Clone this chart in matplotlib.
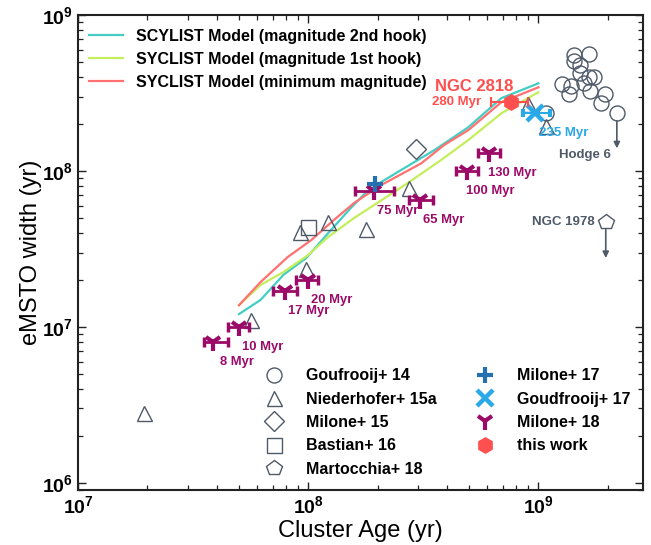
import matplotlib
matplotlib.use('Agg')
import matplotlib.pyplot as plt
from matplotlib.ticker import FuncFormatter
import numpy as np

plt.rcParams['font.family'] = ['Liberation Sans', 'DejaVu Sans']
plt.rcParams['mathtext.fontset'] = 'custom'
plt.rcParams['mathtext.rm'] = 'Liberation Sans'
plt.rcParams['mathtext.bf'] = 'Liberation Sans:bold'

# ---- model curves (age, eMSTO width) ----
hook2_age = [5.0e7, 6.2e7, 7.8e7, 9.8e7, 1.22e8, 1.53e8, 1.78e8, 2.07e8, 2.88e8, 3.52e8, 4.95e8, 6.9e8, 1.0e9]
hook2_w = [1.21e7, 1.49e7, 2.16e7, 2.77e7, 4.0e7, 5.8e7, 7.3e7, 8.5e7, 1.14e8, 1.36e8, 1.91e8, 2.94e8, 3.66e8]
hook1_age = [5.0e7, 6.2e7, 7.8e7, 1.0e8, 1.22e8, 1.58e8, 2.01e8, 2.71e8, 3.78e8, 4.95e8, 6.9e8, 1.0e9]
hook1_w = [1.38e7, 1.86e7, 2.25e7, 2.9e7, 3.78e7, 5.0e7, 6.3e7, 8.4e7, 1.18e8, 1.58e8, 2.35e8, 3.21e8]
minmag_age = [5.0e7, 6.2e7, 8.14e7, 1.03e8, 1.29e8, 1.58e8, 2.07e8, 3.09e8, 3.89e8, 4.95e8, 6.9e8, 1.0e9]
minmag_w = [1.38e7, 1.94e7, 2.81e7, 3.61e7, 4.85e7, 6.24e7, 8.13e7, 1.12e8, 1.47e8, 1.83e8, 2.77e8, 3.45e8]

# ---- observations ----
goud14_age = [1.42e9, 1.65e9, 1.42e9, 1.51e9, 1.51e9, 1.65e9, 1.75e9, 1.27e9, 1.38e9, 1.57e9, 1.36e9, 1.67e9, 1.94e9, 1.86e9, 1.08e9]
goud14_w = [5.54e8, 5.62e8, 5.07e8, 4.78e8, 4.25e8, 4.0e8, 4.0e8, 3.61e8, 3.51e8, 3.66e8, 3.12e8, 3.26e8, 3.12e8, 2.73e8, 2.35e8]
hodge6_age = [2.19e9]
hodge6_w = [2.35e8]
hodge6_lim = [1.40e8]

nied15_age = [1.94e7, 5.61e7, 9.76e7, 9.18e7, 1.22e8, 1.78e8, 2.74e8, 9.04e8, 1.08e9]
nied15_w = [2.81e6, 1.11e7, 2.36e7, 4.07e7, 4.71e7, 4.25e7, 7.78e7, 2.69e8, 1.94e8]

milone15_age = [2.94e8]
milone15_w = [1.38e8]

bastian16_age = [1.0e8]
bastian16_w = [4.38e7]

ngc1978_age = [1.96e9]
ngc1978_w = [4.71e7]
ngc1978_lim = [2.77e7]

milone17_age = [1.95e8]
milone17_w = [8.26e7]

goud17_age = [9.7e8]
goud17_w = [2.35e8]
goud17_lo = [8.6e8]
goud17_hi = [1.12e9]

milone18_age = [3.87e7, 5.0e7, 7.9e7, 1.0e8, 1.93e8, 3.06e8, 4.9e8, 6.1e8]
milone18_lo = [3.54e7, 4.46e7, 7.0e7, 8.8e7, 1.6e8, 2.74e8, 4.4e8, 5.48e8]
milone18_hi = [4.46e7, 5.5e7, 8.9e7, 1.1e8, 2.36e8, 3.49e8, 5.48e8, 6.83e8]
milone18_w = [8.0e6, 1.0e7, 1.7e7, 2.0e7, 7.45e7, 6.5e7, 1.0e8, 1.3e8]
milone18_lab = ['8 Myr', '10 Myr', '17 Myr', '20 Myr', '75 Myr', '65 Myr', '100 Myr', '130 Myr']

this_age = [7.63e8]
this_w = [2.77e8]
this_lo = [6.24e8]
this_hi = [9.04e8]

gray = '#4f5a68'
purple = '#9c0a68'
red = '#ff4f4f'

fig = plt.figure(figsize=(6.51, 5.45), dpi=100)
ax = fig.add_axes([0.12, 0.101, 0.868, 0.871])
ax.set_xscale('log')
ax.set_yscale('log')

l1, = ax.plot(hook2_age, hook2_w, color='#44cdc4', lw=1.6, label='SCYLIST Model (magnitude 2nd hook)')
l2, = ax.plot(hook1_age, hook1_w, color='#c4ee5c', lw=1.6, label='SYCLIST Model (magnitude 1st hook)')
l3, = ax.plot(minmag_age, minmag_w, color='#ff7070', lw=1.6, label='SYCLIST Model (minimum magnitude)')

ms = 10.8
open_kw = dict(ls='none', mfc='none', mec=gray, mew=1.0, ms=ms)
h_c, = ax.plot(goud14_age + hodge6_age, goud14_w + hodge6_w, marker='o', label='Goufrooij+ 14', **open_kw)
h_t, = ax.plot(nied15_age, nied15_w, marker='^', label='Niederhofer+ 15a', **open_kw)
h_d, = ax.plot(milone15_age, milone15_w, marker='D', label='Milone+ 15', **dict(open_kw, ms=10))
h_s, = ax.plot(bastian16_age, bastian16_w, marker='s', label='Bastian+ 16', **open_kw)
h_p, = ax.plot(ngc1978_age, ngc1978_w, marker='p', label='Martocchia+ 18', **dict(open_kw, ms=11.5))

# upper limits
for a, w, lim in [(hodge6_age[0], hodge6_w[0], hodge6_lim[0]), (ngc1978_age[0], ngc1978_w[0], ngc1978_lim[0])]:
    ax.annotate('', xy=(a, lim), xytext=(a, w),
                arrowprops=dict(arrowstyle='-|>', color=gray, lw=1.2, shrinkA=5.5, shrinkB=0,
                                mutation_scale=9))

# Goudfrooij+17
g17 = np.array(goud17_age)
ax.errorbar(goud17_age, goud17_w, xerr=[g17 - np.array(goud17_lo), np.array(goud17_hi) - g17],
            fmt='none', ecolor='#2aa9e8', elinewidth=1.5, capsize=3, capthick=3, ls=':')
h_x, = ax.plot(goud17_age, goud17_w, ls='none', marker='x', ms=11, mew=3.2, color='#2aa9e8', label='Goudfrooij+ 17')

# Milone+18
m18 = np.array(milone18_age)
ax.errorbar(milone18_age, milone18_w, xerr=[m18 - np.array(milone18_lo), np.array(milone18_hi) - m18],
            fmt='none', ecolor=purple, elinewidth=2, capsize=3.5, capthick=2.5)
h_y, = ax.plot(milone18_age, milone18_w, ls='none', marker='1', ms=13, mew=3, color=purple, label='Milone+ 18')
for a, w, t in zip(milone18_age, milone18_w, milone18_lab):
    ax.annotate(t, (a, w), xytext=(17, -14.5), textcoords='offset points', ha='center', va='center',
                fontsize=9.4, fontweight='bold', color=purple)

# Milone+17
h_plus, = ax.plot(milone17_age, milone17_w, ls='none', marker='+', ms=11, mew=3, color='#2470b0', label='Milone+ 17')

# this work
tw = np.array(this_age)
ax.errorbar(this_age, this_w, xerr=[tw - np.array(this_lo), np.array(this_hi) - tw],
            fmt='none', ecolor=red, elinewidth=1.5, capsize=3.5, capthick=1.5)
h_h, = ax.plot(this_age, this_w, ls='none', marker='h', ms=11, color=red, label='this work')

ax.annotate('NGC 2818', (this_age[0], this_w[0]), xytext=(1.5, 11), textcoords='offset points',
            ha='right', va='center', fontsize=12, fontweight='bold', color=red)
ax.annotate('280 Myr', (this_lo[0], this_w[0]), xytext=(-7, 0), textcoords='offset points',
            ha='right', va='center', fontsize=9.5, fontweight='bold', color=red)
ax.annotate('235 Myr', (goud17_age[0], goud17_w[0]), xytext=(20, -14.5), textcoords='offset points',
            ha='center', va='center', fontsize=9.5, fontweight='bold', color='#2aa9e8')
ax.annotate('Hodge 6', (hodge6_age[0], hodge6_w[0]), xytext=(-23, -30), textcoords='offset points',
            ha='center', va='center', fontsize=9.5, fontweight='bold', color=gray)
ax.annotate('NGC 1978', (ngc1978_age[0], ngc1978_w[0]), xytext=(-8, 0), textcoords='offset points',
            ha='right', va='center', fontsize=9.5, fontweight='bold', color=gray)

ax.set_xlim(1e7, 2.85e9)
ax.set_ylim(9e5, 1e9)

fmt = FuncFormatter(lambda v, p: r'$\mathbf{10^{%d}}$' % int(round(np.log10(v))))
ax.xaxis.set_major_formatter(fmt)
ax.yaxis.set_major_formatter(fmt)
ax.tick_params(which='both', direction='in', top=True, right=True, colors='#222222')
ax.tick_params(which='major', length=6, width=1, labelsize=14, labelcolor='black', pad=4)
ax.tick_params(which='minor', length=3.5, width=0.9)
for s in ax.spines.values():
    s.set_linewidth(1.5)
    s.set_color('#222222')

ax.set_xlabel('Cluster Age (yr)', fontsize=17, labelpad=2)
ax.set_ylabel('eMSTO width (yr)', fontsize=17, labelpad=0)

leg1 = ax.legend(handles=[l1, l2, l3], loc='upper left', bbox_to_anchor=(0.02, 0.971), frameon=False,
                 prop=dict(size=11.5, weight='bold'), handlelength=2.1, handletextpad=0.8,
                 labelspacing=0.5, borderaxespad=0, borderpad=0)
ax.add_artist(leg1)
ax.legend(handles=[h_c, h_t, h_d, h_s, h_p, h_plus, h_x, h_y, h_h], ncol=2, loc='upper left',
          bbox_to_anchor=(0.325, 0.256), frameon=False, prop=dict(size=11.5, weight='bold'),
          handlelength=1.5, handletextpad=1.25, labelspacing=0.52, columnspacing=2.3,
          borderaxespad=0, borderpad=0)

fig.savefig('out.png', dpi=100)
